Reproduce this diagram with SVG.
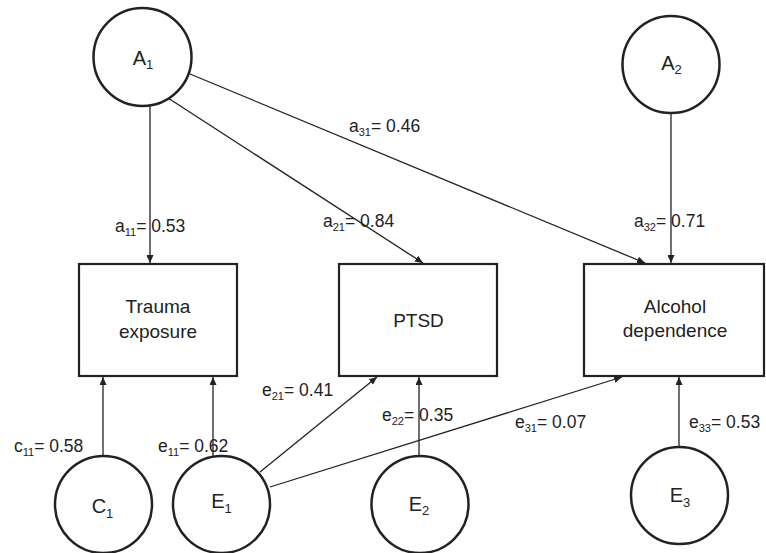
<svg xmlns="http://www.w3.org/2000/svg" width="766" height="553" viewBox="0 0 766 553">
<style>
.node{fill:#fff;stroke:#222;stroke-width:2.5}
.box{fill:#fff;stroke:#222;stroke-width:2.2}
.edge{stroke:#222;stroke-width:1.3;fill:none;marker-end:url(#ah)}
text{font-family:"Liberation Sans",Arial,sans-serif;fill:#222}
.lbl{font-size:17.5px}
.nl{font-size:20px;text-anchor:middle}
.bt{font-size:19px;text-anchor:middle}
.s{font-size:11px}
.ns{font-size:13px}
</style>
<defs>
<marker id="ah" markerUnits="userSpaceOnUse" markerWidth="8" markerHeight="7" refX="8" refY="3.5" orient="auto">
<path d="M0,0 L8,3.5 L0,7 z" fill="#222"/>
</marker>
</defs>
<rect width="766" height="553" fill="#fff"/>
<g id="connectors">
<line class="edge" x1="150" y1="106" x2="150" y2="263"/>
<line class="edge" x1="168" y1="98" x2="423" y2="263"/>
<line class="edge" x1="190" y1="74" x2="645" y2="263"/>
<line class="edge" x1="671" y1="113" x2="671" y2="263"/>
<line class="edge" x1="103" y1="456" x2="103" y2="377"/>
<line class="edge" x1="213" y1="457" x2="213" y2="377"/>
<line class="edge" x1="260" y1="472" x2="377" y2="377"/>
<line class="edge" x1="270" y1="487" x2="622" y2="377"/>
<line class="edge" x1="419" y1="456" x2="419" y2="377"/>
<line class="edge" x1="679" y1="447" x2="679" y2="377"/>
</g>
<g id="A1"><circle class="node" cx="142.5" cy="57" r="49"/><text class="nl" x="143" y="65">A<tspan class="ns" dy="4">1</tspan></text></g>
<g id="A2"><circle class="node" cx="671" cy="64.5" r="48.5"/><text class="nl" x="671.5" y="70">A<tspan class="ns" dy="4">2</tspan></text></g>
<g id="trauma"><rect class="box" x="79" y="264" width="158" height="112"/><text class="bt" x="158" y="313">Trauma</text><text class="bt" x="158" y="338">exposure</text></g>
<g id="ptsd"><rect class="box" x="339" y="264" width="158" height="112"/><text class="bt" x="418.5" y="327">PTSD</text></g>
<g id="alcohol"><rect class="box" x="584" y="264" width="180" height="112"/><text class="bt" x="675" y="313">Alcohol</text><text class="bt" x="675" y="337">dependence</text></g>
<g id="C1"><circle class="node" cx="103.5" cy="504.5" r="48.5"/><text class="nl" x="102.5" y="513">C<tspan class="ns" dy="5">1</tspan></text></g>
<g id="E1"><circle class="node" cx="221.5" cy="504.5" r="48.5"/><text class="nl" x="221.5" y="508">E<tspan class="ns" dy="5">1</tspan></text></g>
<g id="E2"><circle class="node" cx="420" cy="504.5" r="48.5"/><text class="nl" x="419" y="511">E<tspan class="ns" dy="4">2</tspan></text></g>
<g id="E3"><circle class="node" cx="679.5" cy="495.5" r="48.5"/><text class="nl" x="680" y="502">E<tspan class="ns" dy="5">3</tspan></text></g>
<g id="labels">
<text class="lbl" x="115" y="232">a<tspan class="s" dy="4">11</tspan><tspan dy="-4">= 0.53</tspan></text>
<text class="lbl" x="323" y="227">a<tspan class="s" dy="4">21</tspan><tspan dy="-4">= 0.84</tspan></text>
<text class="lbl" x="349" y="132">a<tspan class="s" dy="4">31</tspan><tspan dy="-4">= 0.46</tspan></text>
<text class="lbl" x="634" y="227">a<tspan class="s" dy="4">32</tspan><tspan dy="-4">= 0.71</tspan></text>
<text class="lbl" x="14" y="452">c<tspan class="s" dy="4">11</tspan><tspan dy="-4">= 0.58</tspan></text>
<text class="lbl" x="158" y="452">e<tspan class="s" dy="4">11</tspan><tspan dy="-4">= 0.62</tspan></text>
<text class="lbl" x="262" y="396">e<tspan class="s" dy="4">21</tspan><tspan dy="-4">= 0.41</tspan></text>
<text class="lbl" x="382" y="421">e<tspan class="s" dy="4">22</tspan><tspan dy="-4">= 0.35</tspan></text>
<text class="lbl" x="515" y="428">e<tspan class="s" dy="4">31</tspan><tspan dy="-4">= 0.07</tspan></text>
<text class="lbl" x="689" y="428">e<tspan class="s" dy="4">33</tspan><tspan dy="-4">= 0.53</tspan></text>
</g>
</svg>
